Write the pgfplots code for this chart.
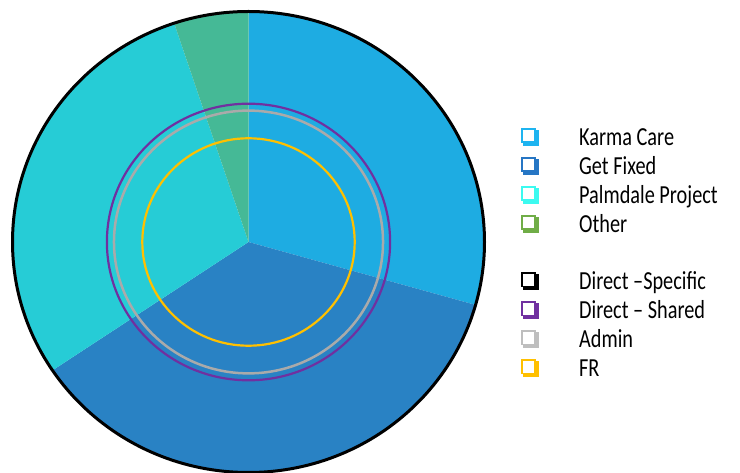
\documentclass[border=0pt]{standalone}
\usepackage{pgfplots}
\usepackage{pgfplotstable}
\pgfplotsset{compat=1.18}
\usepackage{fontspec}
\setmainfont{Carlito}[FakeStretch=0.78]

\definecolor{pKarma}{RGB}{30,172,226}
\definecolor{pFixed}{RGB}{41,130,196}
\definecolor{pPalm}{RGB}{38,204,214}
\definecolor{pOther}{RGB}{69,185,150}
\definecolor{lKarma}{RGB}{30,180,240}
\definecolor{lFixed}{RGB}{38,118,196}
\definecolor{lPalm}{RGB}{60,250,240}
\definecolor{lOther}{RGB}{112,173,71}
\definecolor{cPurple}{RGB}{112,48,160}
\definecolor{cGray}{RGB}{170,170,170}
\definecolor{lGray}{RGB}{190,190,190}
\definecolor{cYellow}{RGB}{255,192,0}

% pie slices (percent of the whole)
\pgfplotstableread{
name value
KarmaCare 29.4
GetFixed 36.2
PalmdaleProject 29.3
Other 5.1
}\slices

% rings (radius relative to the pie)
\pgfplotstableread{
name r
DirectSpecific 1.00
DirectShared 0.60
Admin 0.57
FR 0.45
}\rings

\pgfplotsset{
  sq/.style={legend image code/.code={
    \fill[#1] (2bp,-5.5bp) rectangle (17bp,9.5bp);
    \filldraw[fill=white, draw=#1, line width=1.8bp] (0.9bp,-2.6bp) rectangle (14.1bp,10.6bp);
  }}
}

\begin{document}
\begin{tikzpicture}
\useasboundingbox (0,0) rectangle (740bp,473bp);
\pgfplotstablegetelem{0}{value}\of\slices \pgfmathsetmacro\aA{90-3.6*\pgfplotsretval}
\pgfplotstablegetelem{1}{value}\of\slices \pgfmathsetmacro\aB{\aA-3.6*\pgfplotsretval}
\pgfplotstablegetelem{2}{value}\of\slices \pgfmathsetmacro\aC{\aB-3.6*\pgfplotsretval}
\pgfplotstablegetelem{3}{value}\of\slices \pgfmathsetmacro\aD{\aC-3.6*\pgfplotsretval}
\pgfplotstablegetelem{0}{r}\of\rings \let\rA\pgfplotsretval
\pgfplotstablegetelem{1}{r}\of\rings \let\rB\pgfplotsretval
\pgfplotstablegetelem{2}{r}\of\rings \let\rC\pgfplotsretval
\pgfplotstablegetelem{3}{r}\of\rings \let\rD\pgfplotsretval
\begin{axis}[
  scale only axis, width=472bp, height=461bp,
  at={(248.5bp,231bp)}, anchor=center,
  xmin=-1, xmax=1, ymin=-1, ymax=1,
  hide axis, clip=false,
  legend style={draw=none, fill=none, inner sep=0pt, outer sep=0pt,
    at={(1.0773,0.7473)}, anchor=north west,
    row sep=6.5bp, column sep=41bp,
    font=\fontsize{26bp}{30bp}\selectfont,
    nodes={inner sep=0pt, text height=17bp, text depth=5bp}},
  legend cell align=left,
]
\fill[pKarma] (axis cs:0,0) -- (axis cs:{cos(90)},{sin(90)}) arc[start angle=90, end angle=\aA, x radius=236bp, y radius=230.5bp] -- cycle;
\fill[pFixed] (axis cs:0,0) -- (axis cs:{cos(\aA)},{sin(\aA)}) arc[start angle=\aA, end angle=\aB, x radius=236bp, y radius=230.5bp] -- cycle;
\fill[pPalm] (axis cs:0,0) -- (axis cs:{cos(\aB)},{sin(\aB)}) arc[start angle=\aB, end angle=\aC, x radius=236bp, y radius=230.5bp] -- cycle;
\fill[pOther] (axis cs:0,0) -- (axis cs:{cos(\aC)},{sin(\aC)}) arc[start angle=\aC, end angle=\aD, x radius=236bp, y radius=230.5bp] -- cycle;
\draw[cPurple, line width=2.2bp] (axis cs:0,0) ellipse [x radius=\rB, y radius=\rB];
\draw[cGray, line width=2.5bp] (axis cs:0,0) ellipse [x radius=\rC, y radius=\rC];
\draw[cYellow, line width=2.2bp] (axis cs:0,0) ellipse [x radius=\rD, y radius=\rD];
\draw[black, line width=3bp] (axis cs:0,0) ellipse [x radius=\rA, y radius=\rA];

\addlegendimage{sq=lKarma}\addlegendentry{Karma Care}
\addlegendimage{sq=lFixed}\addlegendentry{Get Fixed}
\addlegendimage{sq=lPalm}\addlegendentry{Palmdale Project}
\addlegendimage{sq=lOther}\addlegendentry{Other}
\addlegendimage{empty legend}\addlegendentry{}
\addlegendimage{sq=black}\addlegendentry{Direct –Specific}
\addlegendimage{sq=cPurple}\addlegendentry{Direct – Shared}
\addlegendimage{sq=lGray}\addlegendentry{Admin}
\addlegendimage{sq=cYellow}\addlegendentry{FR}
\end{axis}
\end{tikzpicture}
\end{document}
